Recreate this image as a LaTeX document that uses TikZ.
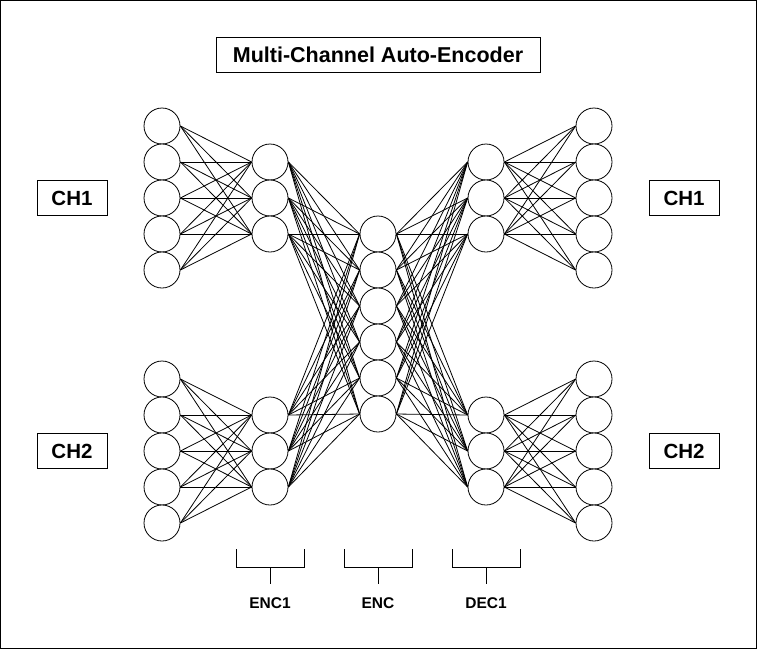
\documentclass[tikz,border=0pt]{standalone}
\usepackage{fontspec}
\setmainfont{Liberation Sans}
\usetikzlibrary{positioning}

\begin{document}
\begin{tikzpicture}[
    x=1pt,y=-1pt,
    neuron/.style={draw,circle,fill=white,minimum size=36pt,inner sep=0pt,line width=0.8pt},
    link/.style={line width=0.8pt},
    tag/.style={draw,line width=0.8pt,minimum width=70pt,minimum height=35pt,inner sep=0pt,font=\fontsize{20.5}{24}\selectfont\bfseries},
    brace/.style={line width=1pt},
    layername/.style={font=\fontsize{15.5}{18}\selectfont\bfseries}
  ]
    \useasboundingbox (0,0) rectangle (757,649);
    \draw[line width=1pt] (0.5,0.5) rectangle (756.5,648.5);
    \node[tag,minimum width=324pt,font=\fontsize{21.5}{24}\selectfont\bfseries] (title) at (378,55) {Multi-Channel Auto-Encoder};
    \foreach \c/\dy in {A/0,B/253} {
      \foreach \i in {1,...,5} {
        \node[neuron] (in\c\i) at (162,{90+36*\i+\dy}) {};
        \node[neuron] (out\c\i) at (594,{90+36*\i+\dy}) {};
      }
      \foreach \i in {1,2,3} {
        \node[neuron] (enc\c\i) at (270,{126+36*\i+\dy}) {};
        \node[neuron] (dec\c\i) at (486,{126+36*\i+\dy}) {};
      }
    }
    \foreach \k in {1,...,6}
      \node[neuron] (mid\k) at (378,{198+36*\k}) {};
    \foreach \c in {A,B} {
      \foreach \i in {1,...,5}
        \foreach \j in {1,2,3} {
          \draw[link] (in\c\i.east) -- (enc\c\j.west);
          \draw[link] (dec\c\j.east) -- (out\c\i.west);
        }
      \foreach \j in {1,2,3}
        \foreach \k in {1,...,6} {
          \draw[link] (enc\c\j.east) -- (mid\k.west);
          \draw[link] (mid\k.east) -- (dec\c\j.west);
        }
    }
    \node[tag] (chOneIn) at (72,198) {CH1};
    \node[tag] (chTwoIn) at (72,451) {CH2};
    \node[tag] (chOneOut) at (684,198) {CH1};
    \node[tag] (chTwoOut) at (684,451) {CH2};
    \foreach \x/\name/\txt in {270/encOne/ENC1,378/encMid/ENC,486/decOne/DEC1} {
      \draw[brace] (\x-34,549) |- (\x+34,567) -- (\x+34,549);
      \draw[brace] (\x,567) -- (\x,584);
      \node[layername] (\name) at (\x,603) {\txt};
    }
\end{tikzpicture}
\end{document}
